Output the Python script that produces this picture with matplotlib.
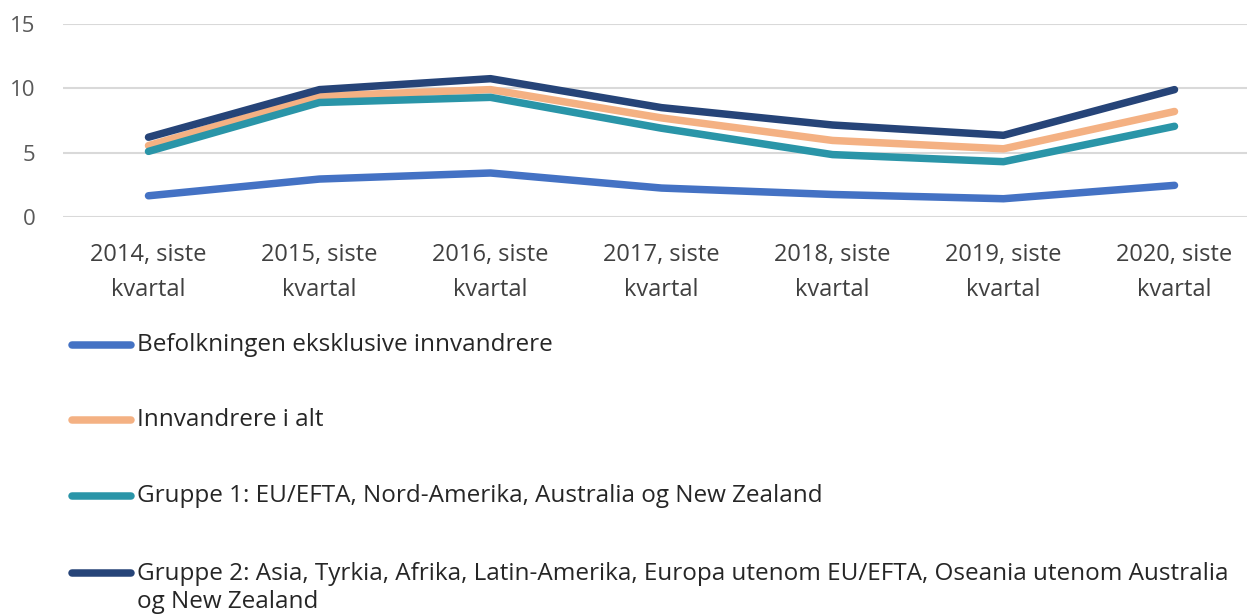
import matplotlib
matplotlib.use("Agg")
import matplotlib.pyplot as plt
from matplotlib.lines import Line2D

categories = ["2014, siste\nkvartal", "2015, siste\nkvartal", "2016, siste\nkvartal",
              "2017, siste\nkvartal", "2018, siste\nkvartal", "2019, siste\nkvartal",
              "2020, siste\nkvartal"]
befolkning = [1.65, 2.95, 3.42, 2.25, 1.75, 1.42, 2.46]
innvandrere = [5.55, 9.4, 9.9, 7.7, 5.95, 5.3, 8.2]
gruppe1 = [5.1, 8.9, 9.3, 6.9, 4.85, 4.3, 7.05]
gruppe2 = [6.2, 9.9, 10.75, 8.5, 7.15, 6.35, 9.9]

labels = ["Befolkningen eksklusive innvandrere",
          "Innvandrere i alt",
          "Gruppe 1: EU/EFTA, Nord-Amerika, Australia og New Zealand",
          "Gruppe 2: Asia, Tyrkia, Afrika, Latin-Amerika, Europa utenom EU/EFTA, Oseania utenom Australia\nog New Zealand"]
colors = ["#4472C4", "#F4B183", "#2A95A8", "#264478"]
series = [befolkning, innvandrere, gruppe1, gruppe2]

plt.rcParams['font.family'] = ['Open Sans', 'DejaVu Sans']

W, H = 1247, 616
FS = 17
LFS = 17.5
fig = plt.figure(figsize=(W / 100, H / 100), dpi=100)
ax = fig.add_axes([63 / W, 1 - 217 / H, (1260 - 63) / W, (217 - 24) / H])

x = list(range(len(categories)))
for s, c in zip(series, colors):
    ax.plot(x, s, color=c, lw=5.4, solid_capstyle='round', solid_joinstyle='round', zorder=3)

ax.set_ylim(0, 15)
ax.set_xlim(-0.5, len(categories) - 0.5)
ax.set_yticks([0, 5, 10, 15])
ax.set_xticks(x)
ax.set_xticklabels(categories, linespacing=1.6)
ax.grid(axis='y', color='#d9d9d9', lw=1.5)
ax.grid(axis='x', visible=False)
for sp in ax.spines.values():
    sp.set_visible(False)
ax.tick_params(axis='x', length=0, labelsize=FS, colors='#404040', pad=19)
ax.tick_params(axis='y', length=0, labelsize=16, colors='#595959', pad=20)
ax.set_axisbelow(True)

# legend drawn manually in figure pixel coordinates
leg_y = [345, 420, 496, 573]
for lbl, c, yy in zip(labels, colors, leg_y):
    yf = 1 - yy / H
    fig.add_artist(Line2D([72 / W, 131 / W], [yf, yf], color=c, lw=5.4,
                          solid_capstyle='round', transform=fig.transFigure))
    if '\n' in lbl:
        fig.text(137 / W, yf + 11 / H, lbl, fontsize=LFS, color='#262626', va='top',
                 linespacing=1.25, transform=fig.transFigure)
    else:
        fig.text(137 / W, yf, lbl, fontsize=LFS, color='#262626', va='center',
                 transform=fig.transFigure)

fig.savefig("out.png", dpi=100)
